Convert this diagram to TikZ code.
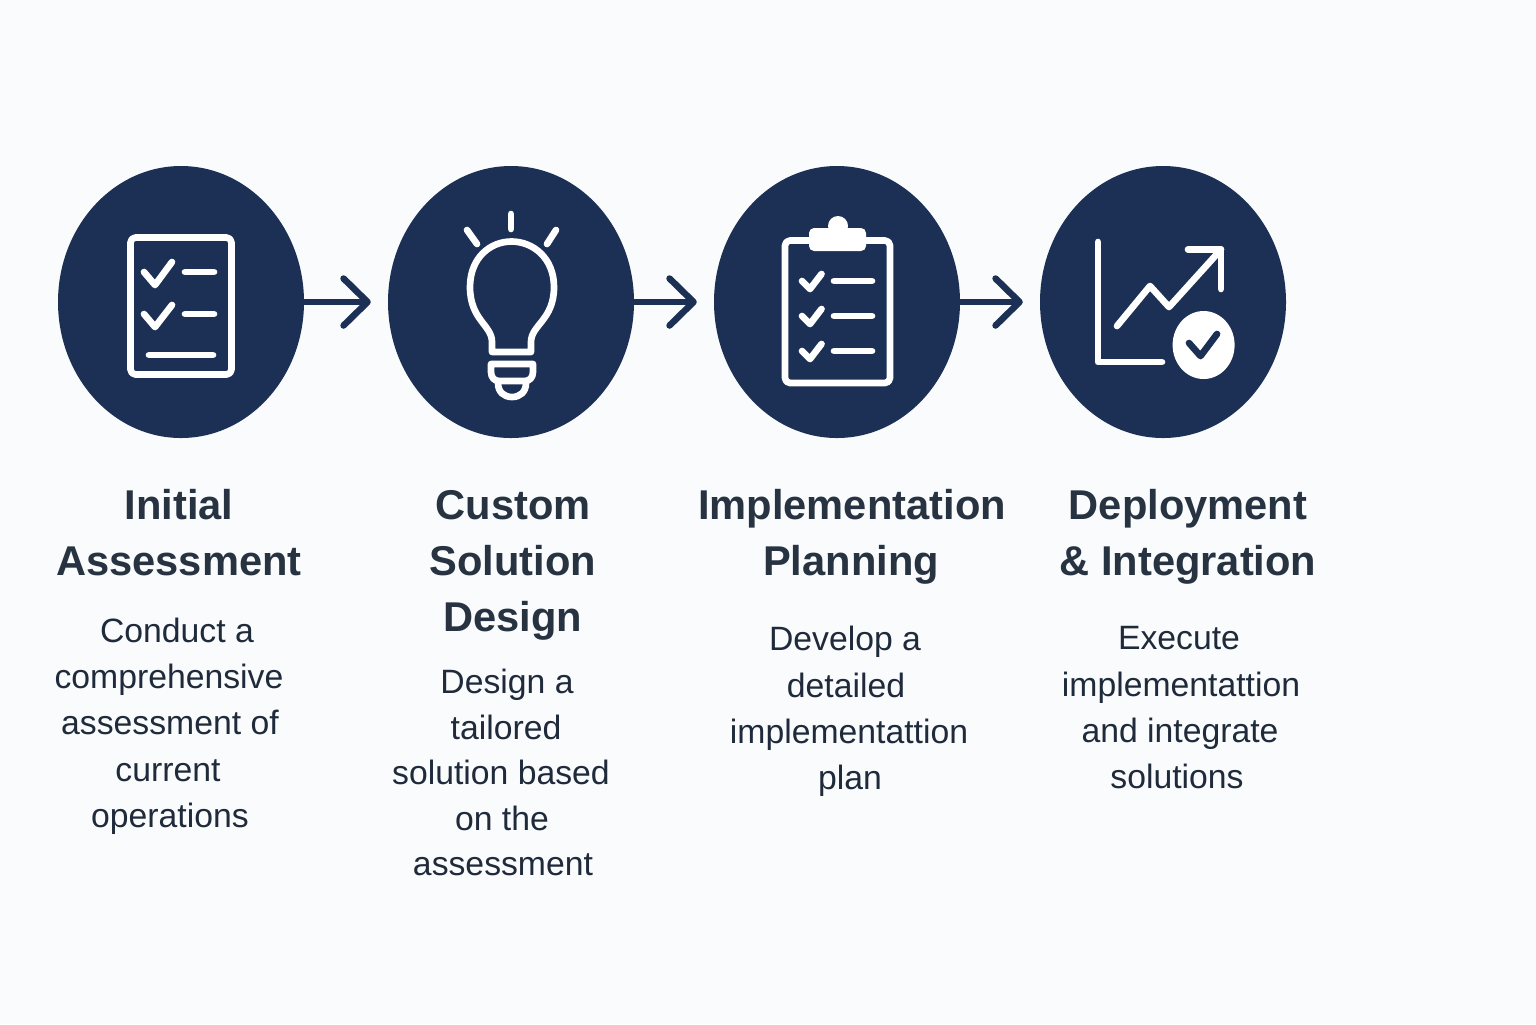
\documentclass[tikz,border=0pt]{standalone}
\usepackage{fontspec}
\setmainfont{Liberation Sans}
\usetikzlibrary{shapes.geometric, arrows.meta, positioning}
\definecolor{navy}{HTML}{1B3054}
\definecolor{paper}{HTML}{F9FBFD}
\definecolor{inkhead}{HTML}{283342}
\definecolor{inkbody}{HTML}{1F2A3A}
\tikzset{
    stepcircle/.style={ellipse, fill=navy, minimum width=2.46cm, minimum height=2.72cm, inner sep=0pt},
    flowarrow/.style={navy, line width=1.85pt, line cap=round, line join=round, shorten >=0.165cm,
        -{Straight Barb[length=0.24cm, width=0.47cm, round]}},
    iconline/.style={white, line width=1.9pt, line cap=round, line join=round},
    headtext/.style={anchor=base, inner sep=0pt, text=inkhead, font=\fontsize{11.85}{14}\selectfont\bfseries},
    bodytext/.style={anchor=base, inner sep=0pt, text=inkbody, font=\fontsize{9.6}{12}\selectfont},
}
\begin{document}
\begin{tikzpicture}[y=-1cm]
        \fill[paper] (0,0) rectangle (15.36,10.24);
        \useasboundingbox (0,0) rectangle (15.36,10.24);
        % Circles
        \node[stepcircle] (assess) at (1.81,3.02) {};
        \node[stepcircle] (design) at (5.11,3.02) {};
        \node[stepcircle] (plan) at (8.37,3.02) {};
        \node[stepcircle] (deploy) at (11.63,3.02) {};
        % Arrows between circles
        \draw[flowarrow] (assess) -- (design);
        \draw[flowarrow] (design) -- (plan);
        \draw[flowarrow] (plan) -- (deploy);
        % Checklist icon
        \draw[iconline, rounded corners=0.05cm] (1.305,2.375) rectangle (2.315,3.745);
        \draw[iconline] (1.44,2.72) -- (1.55,2.85) -- (1.72,2.62);
        \draw[iconline] (1.85,2.72) -- (2.14,2.72);
        \draw[iconline] (1.44,3.14) -- (1.55,3.27) -- (1.72,3.05);
        \draw[iconline] (1.85,3.14) -- (2.14,3.14);
        \draw[iconline] (1.49,3.55) -- (2.13,3.55);
        % Bulb icon
        \draw[iconline] (5.11,2.14) -- (5.11,2.29);
        \draw[iconline] (4.67,2.30) -- (4.77,2.44);
        \draw[iconline] (5.56,2.30) -- (5.47,2.44);
        \draw[iconline] (4.92,3.52) -- (4.92,3.42) .. controls (4.92,3.25) and (4.70,3.20) .. (4.70,2.87)
            .. controls (4.70,2.58) and (4.90,2.415) .. (5.115,2.415)
            .. controls (5.33,2.415) and (5.54,2.58) .. (5.54,2.87)
            .. controls (5.54,3.20) and (5.31,3.25) .. (5.31,3.42) -- (5.31,3.52) -- cycle;
        \draw[iconline] (4.91,3.64) -- (5.33,3.64) -- (5.33,3.72) .. controls (5.33,3.78) and (5.29,3.81) .. (5.25,3.81)
            -- (4.99,3.81) .. controls (4.95,3.81) and (4.91,3.78) .. (4.91,3.72) -- cycle;
        \draw[iconline] (4.98,3.81) -- (4.98,3.83) .. controls (4.98,3.92) and (5.04,3.97) .. (5.12,3.97)
            .. controls (5.20,3.97) and (5.26,3.92) .. (5.26,3.83) -- (5.26,3.81);
        % Clipboard icon
        \draw[iconline, rounded corners=0.05cm] (7.85,2.405) rectangle (8.90,3.83);
        \fill[white, rounded corners=0.05cm] (8.09,2.28) rectangle (8.66,2.51);
        \fill[white] (8.38,2.26) circle (0.10);
        \foreach \rowy in {2.81,3.16,3.51} {
            \draw[iconline] (8.02,\rowy) -- (8.10,\rowy+0.08) -- (8.215,\rowy-0.07);
            \draw[iconline] (8.34,\rowy) -- (8.72,\rowy);
        }
        % Chart icon
        \draw[iconline] (10.98,2.42) -- (10.98,3.62) -- (11.62,3.62);
        \draw[iconline] (11.17,3.26) -- (11.50,2.86) -- (11.69,3.07) -- (12.21,2.495);
        \draw[iconline] (11.88,2.495) -- (12.21,2.495) -- (12.21,2.89);
        \fill[white] (12.036,3.45) ellipse (0.31 and 0.34);
        \draw[iconline, navy] (11.89,3.43) -- (12.005,3.56) -- (12.17,3.34);
        % Titles
        \foreach \name/\x/\y/\txt in {
            ta/1.79/5.19/Initial, tb/1.79/5.75/Assessment,
            tc/5.13/5.19/Custom, td/5.13/5.75/Solution, te/5.13/6.31/Design,
            tf/8.52/5.19/Implementation, tg/8.51/5.75/Planning,
            th/11.88/5.19/Deployment, ti/11.88/5.75/{\& Integration}} {
            \node[headtext] (\name) at (\x,\y) {\txt};
        }
        % Descriptions
        \foreach \name/\x/\y/\txt in {
            la/1.77/6.42/Conduct a, lb/1.69/6.88/comprehensive, lc/1.70/7.34/assessment of,
            ld/1.68/7.81/current, le/1.70/8.27/operations,
            lf/5.07/6.93/Design a, lg/5.06/7.39/tailored, lh/5.01/7.84/solution based,
            li/5.02/8.30/on the, lj/5.03/8.75/assessment,
            lk/8.45/6.50/Develop a, ll/8.46/6.97/detailed, lm/8.49/7.43/implementattion, ln/8.50/7.89/plan,
            lo/11.79/6.49/Execute, lp/11.81/6.96/implementattion, lq/11.80/7.42/and integrate, lr/11.77/7.88/solutions} {
            \node[bodytext] (\name) at (\x,\y) {\txt};
        }
    \end{tikzpicture}
\end{document}
